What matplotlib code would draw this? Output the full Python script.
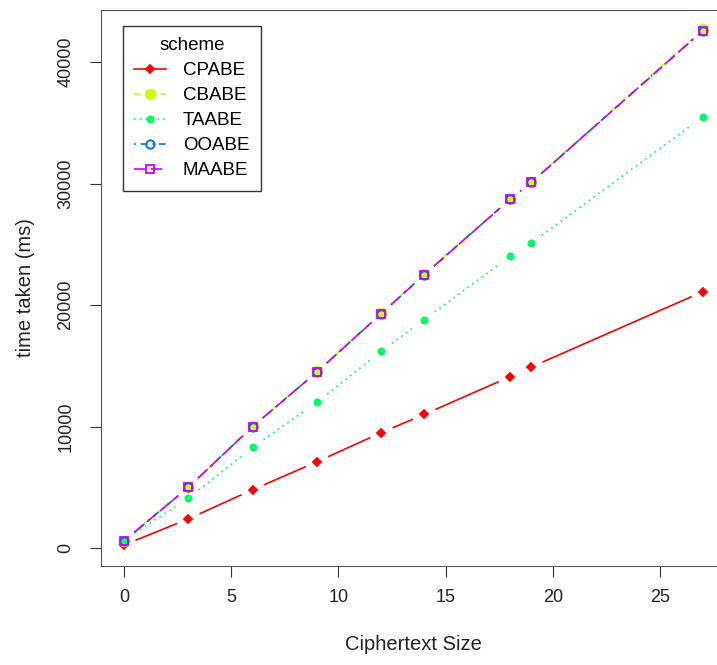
import numpy as np
import matplotlib.pyplot as plt
from matplotlib.lines import Line2D

plt.rcParams['font.family'] = ['Liberation Sans', 'DejaVu Sans']

# dados
tamanho = [0, 3, 6, 9, 12, 14, 18, 19, 27]
cpabe = [250, 2400, 4800, 7100, 9500, 11000, 14100, 14900, 21100]
cbabe = [600, 5050, 10050, 14550, 19350, 22550, 28750, 30150, 42700]
taabe = [650, 4100, 8300, 12000, 16200, 18800, 24000, 25100, 35500]
ooabe = [600, 5000, 10000, 14500, 19300, 22500, 28700, 30100, 42600]
maabe = [600, 5000, 10000, 14500, 19300, 22500, 28700, 30100, 42600]

esquemas = ["CPABE", "CBABE", "TAABE", "OOABE", "MAABE"]
valores = [cpabe, cbabe, taabe, ooabe, maabe]
cores = ["#FF0000", "#CCFF00", "#00FF66", "#0066FF", "#CC00FF"]
estilos = ["-", (0, (4, 4)), (0, (1, 2.5)), (0, (1, 3, 4, 3)), (0, (7, 3))]
marcadores = ["D", "o", "o", "o", "s"]
tam_marc = [4, 7, 4.5, 6, 5.5]
preenche = [True, True, True, False, False]

fig = plt.figure(figsize=(7.17, 6.65), dpi=100)
ax = fig.add_axes([101/717, 99.5/665, 625/717, 555.5/665])
ax.set_xlim(-1.08, 28.08)
ax.set_ylim(-1444, 44294)

gap = 13  # folga em pixels em volta de cada ponto (type="b" do R)
fig.canvas.draw()
for nome, y, cor, ls, mk, ms, fill in zip(esquemas, valores, cores, estilos, marcadores, tam_marc, preenche):
    pts = ax.transData.transform(np.column_stack([tamanho, y]))
    for i in range(len(pts) - 1):
        p0, p1 = pts[i], pts[i + 1]
        d = p1 - p0
        n = np.hypot(*d)
        if n <= 2 * gap:
            continue
        u = d / n
        seg = ax.transData.inverted().transform(np.array([p0 + u * gap, p1 - u * gap]))
        ax.plot(seg[:, 0], seg[:, 1], color=cor, ls=ls, lw=1.2)
    ax.plot(tamanho, y, ls="none", marker=mk, ms=ms, color=cor,
            mfc=cor if fill else "none", mew=1.3)

# legenda
handles = []
for nome, cor, ls, mk, ms, fill in zip(esquemas, cores, estilos, marcadores, tam_marc, preenche):
    handles.append(Line2D([], [], color=cor, ls=ls, lw=1.2, marker=mk, ms=ms,
                          mfc=cor if fill else "none", mew=1.3, label=nome))
leg = ax.legend(handles=handles, title="scheme", loc="upper left",
                bbox_to_anchor=(123/717, 1 - 26/665), bbox_transform=fig.transFigure,
                fontsize=13.5, title_fontsize=13.5, fancybox=False, framealpha=1,
                edgecolor="#333333", handlelength=1.7, handletextpad=0.9,
                labelspacing=0.42, borderpad=0.6, borderaxespad=0)
leg.get_frame().set_linewidth(1.0)

ax.set_xticks([0, 5, 10, 15, 20, 25])
ax.set_yticks([0, 10000, 20000, 30000, 40000])
ax.tick_params(axis="both", labelsize=13, length=8, color="#333333", labelcolor="#222222")
ax.tick_params(axis="x", pad=9)
ax.tick_params(axis="y", pad=11, labelrotation=90)
for lab in ax.get_yticklabels():
    lab.set_va("center")

ax.set_xlabel("Ciphertext Size", fontsize=14.5, labelpad=21, color="#222222")
ax.set_ylabel("time taken (ms)", fontsize=14.5, labelpad=16, color="#222222")
for s in ax.spines.values():
    s.set_color("#555555")
ax.spines["right"].set_visible(False)

fig.savefig("out.png", dpi=100)
